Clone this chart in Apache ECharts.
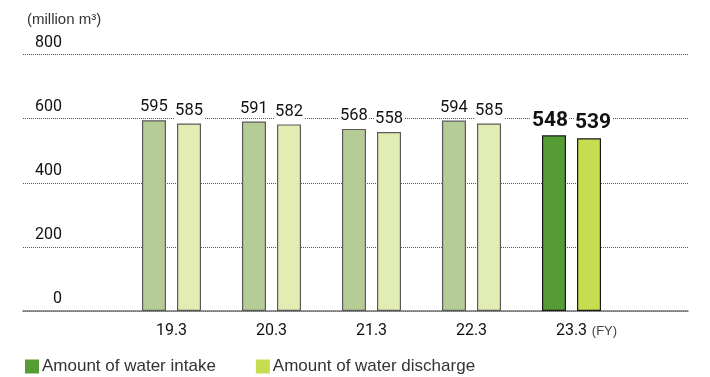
<!DOCTYPE html>
<html>
<head>
<meta charset="utf-8">
<script src="https://cdn.jsdelivr.net/npm/echarts@6/dist/echarts.min.js"></script>
<style>
  html, body { margin: 0; padding: 0; background: #fff; }
  #chart { width: 710px; height: 377px; }
</style>
</head>
<body>
<div id="chart"></div>
<script>
// Fiscal years (March year-end)
const categories = ['19.3', '20.3', '21.3', '22.3', '23.3'];
// Water volumes, million m³
const intake = [595, 591, 568, 594, 548];
const discharge = [585, 582, 558, 585, 539];
const seriesNames = ['Amount of water intake', 'Amount of water discharge'];
const unitLabel = '(million m³)';
const periodLabel = '(FY)';

const NUM = 'Roboto, "DejaVu Sans Condensed", sans-serif';
const SANS = '"Liberation Sans", Arial, sans-serif';

const palette = {
  intake: { current: '#559c35', past: '#b6cc96' },
  discharge: { current: '#c6dd50', past: '#e2edb3' }
};

// Latest year is highlighted: saturated colour, dark outline, bold label
function buildData(values, colors, shift) {
  const last = values.length - 1;
  return values.map((v, i) => {
    const isLast = i === last;
    return {
      value: v,
      itemStyle: {
        color: isLast ? colors.current : colors.past,
        borderColor: isLast ? '#1a1a1a' : '#5a5a5a',
        borderWidth: 1.2
      },
      label: isLast
        ? { fontSize: 21, fontWeight: 'bold', lineHeight: 22, distance: 4, offset: [shift, 0] }
        : { fontSize: 16.5, fontWeight: 'normal', lineHeight: 18, distance: 4 }
    };
  });
}

const barLabel = {
  show: true,
  position: 'top',
  fontFamily: NUM,
  color: '#111',
  backgroundColor: '#fff',
  padding: [0, 1, 0, 1]
};

const chart = echarts.init(document.getElementById('chart'), null, { renderer: 'canvas' });

chart.setOption({
  animation: false,
  backgroundColor: '#fff',
  grid: [
    { left: 23, right: 22, top: 54.5, bottom: 66 },
    { left: 121.5, width: 500, top: 54.5, bottom: 66 }
  ],
  legend: {
    data: seriesNames,
    left: 25,
    top: 358,
    padding: 0,
    icon: 'rect',
    itemWidth: 14,
    itemHeight: 14,
    itemGap: 40,
    itemStyle: { borderWidth: 0 },
    textStyle: { fontFamily: SANS, fontSize: 17, color: '#333', padding: [0, 0, 0, -2] }
  },
  xAxis: [
    {
      type: 'value',
      gridIndex: 0,
      min: 0,
      max: 1,
      axisLine: { show: true, lineStyle: { color: '#777', width: 1.6 } },
      axisTick: { show: false },
      axisLabel: { show: false },
      splitLine: { show: false }
    },
    {
      type: 'category',
      gridIndex: 1,
      data: categories,
      axisLine: { show: false },
      axisTick: { show: false },
      axisLabel: {
        interval: 0,
        margin: 12,
        fontFamily: NUM,
        fontSize: 16,
        color: '#111',
        formatter: (val, idx) => idx === categories.length - 1
          ? '{pad|}{num|' + val + '}{fy|' + periodLabel + '}'
          : '{num|' + val + '}',
        rich: {
          num: { fontFamily: NUM, fontSize: 16, color: '#111' },
          pad: { width: 30 },
          fy: { fontFamily: SANS, fontSize: 13, color: '#444', width: 30, align: 'right' }
        }
      }
    }
  ],
  yAxis: [
    {
      type: 'value',
      gridIndex: 0,
      min: 0,
      max: 800,
      interval: 200,
      name: unitLabel,
      nameLocation: 'end',
      nameGap: 27,
      nameTextStyle: { fontFamily: SANS, fontSize: 15, color: '#333', align: 'left', padding: [0, 0, 0, 4] },
      axisLine: { show: false },
      axisTick: { show: false },
      axisLabel: {
        inside: true,
        margin: 39,
        align: 'right',
        verticalAlign: 'bottom',
        lineHeight: 18,
        padding: [0, 0, 3, 0],
        fontFamily: NUM,
        fontSize: 16,
        color: '#111'
      },
      splitLine: { show: true, lineStyle: { color: '#555', width: 1, type: [1, 1] } }
    },
    {
      type: 'value',
      gridIndex: 1,
      min: 0,
      max: 800,
      interval: 200,
      show: false,
      splitLine: { show: false }
    }
  ],
  series: [
    {
      name: seriesNames[0],
      type: 'bar',
      xAxisIndex: 1,
      yAxisIndex: 1,
      barWidth: 24,
      barGap: '46%',
      itemStyle: { color: palette.intake.current },
      label: barLabel,
      data: buildData(intake, palette.intake, -4)
    },
    {
      name: seriesNames[1],
      type: 'bar',
      xAxisIndex: 1,
      yAxisIndex: 1,
      barWidth: 24,
      barGap: '46%',
      itemStyle: { color: palette.discharge.current },
      label: barLabel,
      data: buildData(discharge, palette.discharge, 4)
    }
  ]
});
</script>
</body>
</html>
